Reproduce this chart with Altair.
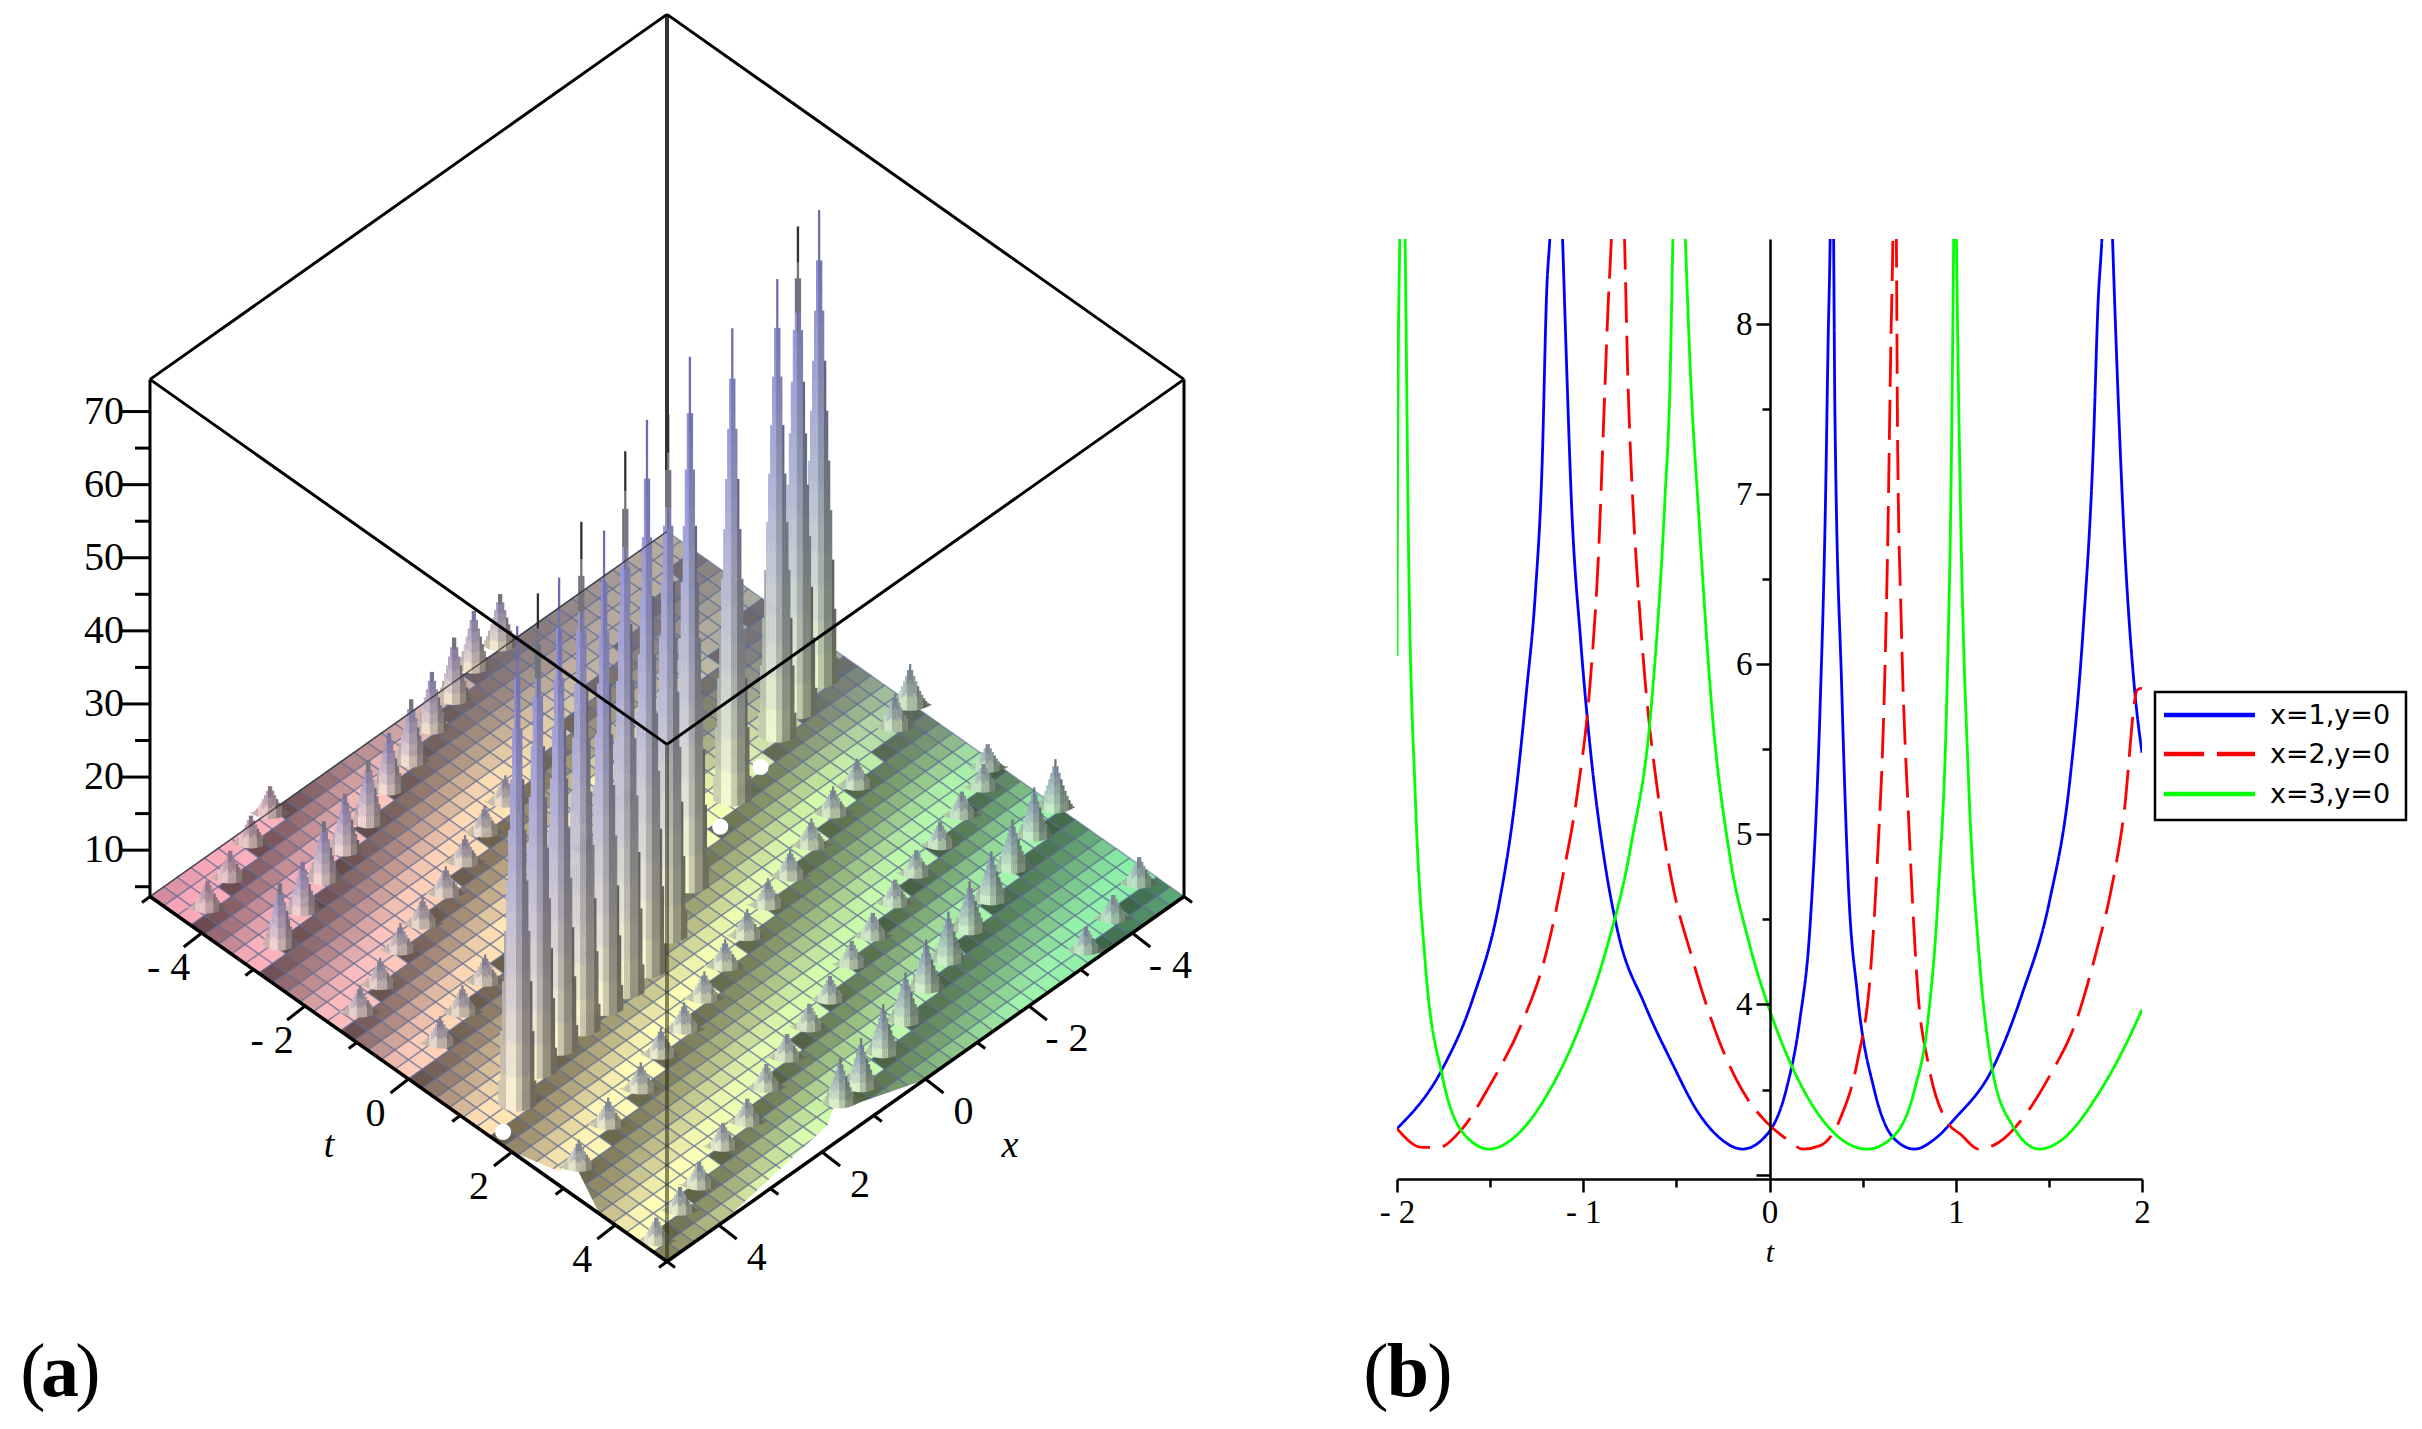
import altair as alt
import pandas as pd

alt.data_transformers.disable_max_rows()

# ---------- panel (b) values ----------
BLUE_T = [-2.0,-1.757,-1.594,-1.449,-1.377,-1.304,-1.257,-1.221,-1.196,-1.178,-1.145,-1.112,-1.094,-1.062,-1.014,-.96,-.888,-.815,-.67,-.525,-.38,-.272,-.145,-.018,.09,.163,.217,.272,.30,.315,.326,.335,.344,.351,.388,.424,.471,.562,.67,.779,.888,.996,1.196,1.359,1.504,1.612,1.685,1.739,1.764,1.786,1.815,1.841,1.866,1.902,1.957,2.0]
BLUE_V = [3.27,3.62,4.03,4.61,5.105,5.85,6.42,7.17,8.2,8.53,9.5,8.53,7.91,6.92,6.14,5.48,4.86,4.43,4.0,3.66,3.36,3.22,3.15,3.23,3.50,3.91,4.45,5.76,6.92,7.91,8.53,9.5,8.53,7.5,5.85,4.69,4.07,3.50,3.21,3.15,3.21,3.33,3.62,4.07,4.61,5.31,6.22,7.29,8.12,8.53,9.5,8.53,7.74,6.80,5.89,5.48]
RED_T = [-2.0,-1.866,-1.775,-1.649,-1.504,-1.322,-1.214,-1.105,-1.033,-.96,-.917,-.888,-.866,-.851,-.82,-.779,-.761,-.736,-.707,-.67,-.598,-.525,-.417,-.272,-.127,-.018,.09,.181,.272,.38,.471,.543,.58,.616,.634,.652,.663,.672,.681,.688,.707,.75,.797,.851,.942,1.033,1.123,1.232,1.359,1.504,1.649,1.757,1.83,1.902,1.975,2.0]
RED_V = [3.27,3.16,3.16,3.27,3.52,3.91,4.24,4.78,5.23,5.93,6.67,7.5,8.12,8.45,9.5,8.53,7.7,7.0,6.47,5.93,5.23,4.73,4.28,3.79,3.46,3.31,3.21,3.15,3.17,3.33,3.66,4.20,4.86,5.81,6.67,7.91,8.53,9.5,8.53,7.29,6.26,5.02,4.07,3.66,3.33,3.23,3.15,3.19,3.33,3.58,3.91,4.32,4.65,5.11,5.85,5.86]
GREEN_T = [-2.0,-1.995,-1.985,-1.975,-1.957,-1.938,-1.902,-1.848,-1.757,-1.649,-1.504,-1.359,-1.178,-1.033,-.888,-.743,-.634,-.562,-.533,-.518,-.485,-.453,-.424,-.38,-.308,-.217,-.109,0,.127,.308,.525,.67,.779,.851,.906,.953,.975,.989,.996,1.004,1.025,1.069,1.123,1.196,1.304,1.449,1.576,1.757,1.902,2.0]
GREEN_V = [6.05,7.5,8.53,9.5,8.53,6.67,5.23,4.24,3.58,3.25,3.15,3.23,3.50,3.83,4.28,4.94,5.76,6.96,7.70,8.53,9.5,8.53,7.70,6.88,5.72,4.90,4.36,3.97,3.62,3.29,3.15,3.23,3.50,3.91,4.65,5.85,7.08,8.53,9.5,8.53,6.96,5.31,4.32,3.62,3.29,3.15,3.21,3.46,3.74,3.97]
SERIES = ["x=1,y=0", "x=2,y=0", "x=3,y=0"]
SERIES_COLORS = ["#0000ff", "#ff0000", "#00ff00"]
Y_TICKS = [3,3.5,4,4.5,5,5.5,6,6.5,7,7.5,8]
X_TICKS = [-2,-1.5,-1,-.5,0,.5,1,1.5,2]

# ---------- panel (a) values: rows of peaks (t, x, height) ----------
BIG_T = [1.49,1.24,1.13,1.08,1.02,.99,.92,.65,.17,-.61,-1.05,-1.17,-1.39]
BIG_X = [4.39,3.74,3.22,2.74,2.24,1.80,1.31,.63,-.27,-1.87,-3.18,-3.70,-4.33]
BIG_Z = [70,70,69,74,70,78.5,80,76,77,69,67,71,69]
BIG_DARK = [0,1,0,1,0,1,0,1,0,0,0,1,0]
P_T = [-3.01,-3.26,-3.48,-3.67,-3.83,-4.08,-4.25,-4.50,-4.69,-4.93,-4.98]
P_X = [4.48,3.79,3.16,2.56,1.95,1.30,.70,.05,-.57,-1.19,-1.75]
P_Z = [13.5,11.6,13,12.8,13.6,12.8,13.6,12.8,13.5,12.8,12]
P_DARK = [1,0,1,0,1,0,1,0,1,0,1]
A_T = [-4.22,-4.41,-4.69,-4.91]
A_X = [4.67,4.04,3.36,2.77]
A_Z = [8.4,8.4,8.4,8.4]
C_T = [-1.32,-1.50,-1.78,-1.92,-2.12,-2.36,-2.58,-2.79]
C_X = [4.62,4.05,3.38,2.81,2.16,1.55,.95,.34]
C_Z = [8,8,8,8,8,8,8,8]
D_T = [-.12,-.33,-.53]
D_X = [4.27,3.63,2.99]
D_Z = [8,8,8]
E_T = [2.91,2.62,2.45,2.17,2.05,1.82,1.58,1.38,1.16,.98,.76,.53,.38,-.05,-.2]
E_X = [4.62,3.76,2.96,2.29,1.72,1.10,.46,-.17,-.79,-1.40,-2.03,-2.68,-3.29,-4.46,-4.9]
E_Z = [8,8,8,8,8,8,8,8,8,8,8,8,8,9,10]
F_T = [4.68,4.49,4.33,4.03,3.93,3.64,3.43,3.23,3.05,2.78,2.60,2.36,2.16,2.0,1.80,1.63,1.4]
F_X = [4.89,4.24,3.71,2.95,2.38,1.72,1.11,.48,-.10,-.79,-1.38,-2.05,-2.66,-3.28,-3.90,-4.49,-4.8]
F_Z = [7.8]*17
G_T = [4.57,4.55,4.30,4.08,3.83,3.66,3.45,3.25,3.02,2.79,2.61]
G_X = [1.22,.80,.12,-.53,-1.18,-1.78,-2.40,-3.02,-3.66,-4.31,-4.90]
G_Z = [10.5,11,11,11,11,11,11,11,11,11,11]
G_DARK = [1,0,1,0,1,0,1,0,1,0,1]
H_T = [4.85,4.68,4.45]
H_X = [-3.25,-3.95,-4.68]
H_Z = [7.8,7.8,8.2]
RIDGES = [-22,-18,-12.8,-9.2,-4.3,-.1,4.6,8.6,13.5,17.3,22]
NOTCH1_T = [5.03,4.68,4.52,4.69,4.85,5.02]
NOTCH1_X = [-.03,1.0,1.31,1.57,2.76,4.03]
NOTCH2_T = [3.72,2.95,2.6,2.74,2.05]
NOTCH2_X = [5.02,4.65,4.43,4.81,4.99]
HOLE_T = [1.64,-.44,-.87]
HOLE_X = [4.81,-1.47,-2.68]
Z_TICKS = [5,10,15,20,25,30,35,40,45,50,55,60,65,70]
Z_LABELS = [10,20,30,40,50,60,70]
FLOOR_TICKS = [-5,-4,-3,-2,-1,0,1,2,3,4,5]
FLOOR_LABELS = [-4,-2,0,2,4]

Z0, ZTOP = 3.66, 74.4
def proj(t, x, z=Z0):
    return 667 + (t - x) * 51.7, 893.5 + (t + x) * 36.5 - (z - Z0) * 7.31

SX = alt.Scale(domain=[8, 1397], range=[0, 1389], nice=False, zero=False)
SY = alt.Scale(domain=[1421, 8], nice=False, zero=False)
XE = alt.X("x:Q", scale=SX, axis=None)
YE = alt.Y("y:Q", scale=SY, axis=None)

def hexc(c):
    return "#%02x%02x%02x" % tuple(max(0, min(255, int(round(v)))) for v in c)
def mix(a, b, f):
    return tuple(a[i] + (b[i] - a[i]) * f for i in range(3))
KEYS = [(-10,(244,160,182)),(-6,(246,186,186)),(-3,(252,226,176)),(0,(253,252,180)),(3,(206,246,168)),(6,(166,240,168)),(10,(124,232,164))]
def base_col(d):
    d = max(-10, min(10, d))
    for (a, ca), (b, cb) in zip(KEYS, KEYS[1:]):
        if d <= b:
            return mix(ca, cb, (d - a) / (b - a))
    return KEYS[-1][1]

def shade(t, x):
    c = x - 3 * t
    for lo, hi in zip(RIDGES, RIDGES[1:]):
        if lo <= c <= hi:
            f = (hi - c) / (hi - lo)
            return 0.40 + 0.62 * min(1, f / 0.72)
    return 1

# surface cells
N = 38
rows = []
for i in range(N):
    for j in range(N):
        t0, t1 = -5 + i * 10 / N, -5 + (i + 1) * 10 / N
        x0, x1 = -5 + j * 10 / N, -5 + (j + 1) * 10 / N
        tm, xm = (t0 + t1) / 2, (x0 + x1) / 2
        col = tuple(v * shade(tm, xm) for v in base_col(tm - xm))
        s = tm + xm
        if s < -3:
            col = mix(col, (120, 104, 140), min(.55, (-3 - s) / 7))
        colh = hexc(col)
        for k, (a, b) in enumerate([(t0,x0),(t1,x0),(t1,x1),(t0,x1),(t0,x0)]):
            p = proj(a, b)
            rows.append({"id": i * N + j, "k": k, "x": round(p[0], 1), "y": round(p[1], 1), "c": colh})
surface = alt.Chart(pd.DataFrame(rows)).mark_line(stroke="#5a6794", strokeWidth=1.6, strokeOpacity=.55).encode(
    x=XE, y=YE, detail="id:N", order="k:Q", fill=alt.Fill("c:N", scale=None))

nrows = []
for nid, (ts, xs) in enumerate([(NOTCH1_T, NOTCH1_X), (NOTCH2_T, NOTCH2_X)]):
    for k, (a, b) in enumerate(list(zip(ts, xs)) + [(ts[0], xs[0])]):
        p = proj(a, b)
        nrows.append({"id": nid, "k": k, "x": p[0], "y": p[1]})
notches = alt.Chart(pd.DataFrame(nrows)).mark_line(stroke="white", strokeWidth=1, fill="white").encode(
    x=XE, y=YE, detail="id:N", order="k:Q")

# peaks as stepped cones: (t, x, z, dark flag, tip colour, half width, colour bands, profile power)
def peak_rows():
    groups = [
        (A_T, A_X, A_Z, None, (150, 120, 150), 20, 3, 1.4),
        (P_T, P_X, P_Z, P_DARK, (135, 125, 185), 18, 6, 1.25),
        (C_T, C_X, C_Z, None, (135, 130, 165), 21, 3, 1.4),
        (D_T, D_X, D_Z, None, (135, 130, 165), 21, 3, 1.4),
        (E_T, E_X, E_Z, None, (130, 140, 170), 21, 3, 1.4),
        (F_T, F_X, F_Z, None, (130, 140, 170), 20, 3, 1.4),
        (G_T, G_X, G_Z, G_DARK, (120, 135, 170), 19, 6, 1.25),
        (H_T, H_X, H_Z, None, (130, 140, 170), 20, 3, 1.4),
        (BIG_T, BIG_X, BIG_Z, BIG_DARK, (125, 125, 210), 19, 14, 1.0),
    ]
    peaks = []
    for ts, xs, zs, dark, top, w, nseg, pw in groups:
        for n, (t, x, z) in enumerate(zip(ts, xs, zs)):
            peaks.append((t + x, t, x, z, dark[n] if dark else 0, top, w, nseg, pw))
    peaks.sort(key=lambda p: p[0])
    out = []
    for _, t, x, z, dk, top, w, nseg, pw in peaks:
        sx, by = proj(t, x)
        _, tip = proj(t, x, z)
        cream = mix(base_col(t - x), (250, 250, 225), .55)
        col = -w
        while col < w:
            g = (col + 1) / w
            fc = max(.02, (1 - abs(g)) ** pw)
            bot = by - 6 * g * g
            n_here = max(1, int(round(fc * nseg)))
            H = by - tip
            if g < -.55: m = .86
            elif g < -.1: m = 1.03
            elif g < .3: m = .84
            elif g < .65: m = .62
            else: m = .46
            for q in range(n_here):
                f0, f1 = fc * q / n_here, fc * (q + 1) / n_here
                fm = (f0 + f1) / 2
                c = mix(cream, top, fm ** .8)
                c = tuple(v * m for v in c)
                if dk and fm > .93: c = (48, 48, 50)
                elif dk and fm > .8: c = (115, 115, 125)
                y_top = bot - (bot - (by - H)) * f1
                y_bot = bot - (bot - (by - H)) * f0
                out.append({"x": sx + col, "x2": sx + col + 2.3, "y": y_top, "y2": y_bot + .5, "c": hexc(c)})
            col += 2
    return out
peaks = alt.Chart(pd.DataFrame(peak_rows())).mark_rect(strokeWidth=0).encode(
    x=XE, x2="x2:Q", y=YE, y2="y2:Q", fill=alt.Fill("c:N", scale=None))

def segs(pairs, width, color="black", opacity=1, dash=None):
    d = pd.DataFrame([{"x": a[0], "y": a[1], "x2": b[0], "y2": b[1]} for a, b in pairs])
    kw = {"strokeDash": dash} if dash else {}
    return alt.Chart(d).mark_rule(strokeWidth=width, color=color, opacity=opacity, **kw).encode(
        x=XE, x2="x2:Q", y=YE, y2="y2:Q")

def txt(items, size, font="Liberation Serif", style="normal", weight="normal", align="center"):
    d = pd.DataFrame([{"x": a, "y": b, "s": c} for a, b, c in items])
    return alt.Chart(d).mark_text(font=font, fontSize=size, fontStyle=style, fontWeight=weight,
                                  align=align, baseline="middle", color="black").encode(x=XE, y=YE, text="s:N")

L, F, R, B = (-5, 5), (5, 5), (5, -5), (-5, -5)
top = lambda c: proj(c[0], c[1], ZTOP)
flo = lambda c: proj(c[0], c[1])

back_line = segs([(top(B), flo(B))], 4, "#333333")
holes = alt.Chart(pd.DataFrame([{"x": proj(a, b)[0], "y": proj(a, b)[1]} for a, b in zip(HOLE_T, HOLE_X)])).mark_point(
    filled=True, shape="circle", size=260, color="white", opacity=1).encode(x=XE, y=YE)
top_box = segs([(top(B), top(L)), (top(L), top(F)), (top(F), top(R)), (top(R), top(B))], 3)
front_v = segs([(top(F), flo(F))], 4, "#2a2a10", .55)
left_v = segs([(top(L), flo(L))], 3)
right_v = segs([(top(R), flo(R))], 3)
floor_e = segs([(flo(L), flo(F)), (flo(F), flo(R))], 3.5)
back_e = segs([(flo(L), flo(B))], 1.5, "#222222", .7)

tick_pairs = []
for v in FLOOR_TICKS:
    a = proj(v, 5); lx, ly = (18, 14) if v in FLOOR_LABELS else (8, 6)
    tick_pairs.append((a, (a[0] - lx, a[1] + ly)))
    a = proj(5, v)
    tick_pairs.append((a, (a[0] + lx, a[1] + ly)))
for z in Z_TICKS:
    y = proj(-5, 5, z)
    tick_pairs.append((y, (y[0] - (30 if z in Z_LABELS else 15), y[1])))
ticks_a = segs(tick_pairs, 3)

def lab(v):
    return ("- %d" % -v) if v < 0 else str(v)
t_labels = [(proj(v, 5)[0] - 33, proj(v, 5)[1] + 35, lab(v)) for v in FLOOR_LABELS]
x_labels = [(proj(5, v)[0] + 38, proj(5, v)[1] + 33, lab(v)) for v in FLOOR_LABELS]
z_labels = [(124, proj(-5, 5, z)[1], str(z)) for z in Z_LABELS]

texts = [
    txt(t_labels + x_labels, 40),
    txt(z_labels, 40, align="right"),
    txt([(329, 1143, "t"), (1010, 1143, "x")], 38, style="italic"),
    txt([(33, 1370, "("), (88, 1370, ")"), (1376, 1370, "("), (1440, 1370, ")")], 76),
    txt([(60, 1370, "a"), (1408, 1370, "b")], 76, weight="bold"),
]

# legend of panel (b)
legend_box = alt.Chart(pd.DataFrame([{"x": 2155, "x2": 2406, "y": 689, "y2": 817}])).mark_rect(
    fill="white", stroke="black", strokeWidth=2.5).encode(x=XE, x2="x2:Q", y=YE, y2="y2:Q")
LEG_Y = [712, 751, 791]
legend_items = [legend_box] + [
    segs([((2164, y), (2255, y))], 4.5, c, 1, [40, 13] if i == 1 else None)
    for i, (y, c) in enumerate(zip(LEG_Y, SERIES_COLORS))
] + [txt([(2270, y + 1, s) for y, s in zip(LEG_Y, SERIES)], 27, font="DejaVu Sans", align="left")]

left = alt.layer(surface, notches, back_line, peaks, holes, back_e, top_box, front_v, left_v, right_v,
                 floor_e, ticks_a, *texts, *legend_items).properties(width=1389, height=1413)

# ---------- panel (b) ----------
lrows = []
for name, ts, vs in zip(SERIES, [BLUE_T, RED_T, GREEN_T], [BLUE_V, RED_V, GREEN_V]):
    for k, (a, b) in enumerate(zip(ts, vs)):
        lrows.append({"t": a, "v": b, "s": name, "k": k})

FONT = "Liberation Serif"
lines = alt.Chart(pd.DataFrame(lrows)).mark_line(strokeWidth=2.8, clip=True, interpolate="monotone").encode(
    x=alt.X("t:Q", scale=alt.Scale(domain=[-2, 2], nice=False, zero=False), axis=alt.Axis(
        values=X_TICKS, title="t", titleFont=FONT, titleFontStyle="italic", titleFontWeight="normal", titleFontSize=30,
        titlePadding=8, grid=False, domainColor="black", domainWidth=2.5, tickColor="black", tickWidth=2.5,
        tickSize={"condition": {"test": "datum.value % 1 == 0", "value": 13}, "value": 8},
        labelExpr="datum.value % 1 == 0 ? (datum.value < 0 ? '- ' + (-datum.value) : '' + datum.value) : ''",
        labelFont=FONT, labelFontSize=33, labelColor="black", labelPadding=4, labelFlush=False, labelOverlap=False, zindex=1)),
    y=alt.Y("v:Q", scale=alt.Scale(domain=[2.974, 8.5], nice=False, zero=False), axis=alt.Axis(
        values=Y_TICKS, title=None, offset=-373, grid=False, domainColor="black", domainWidth=2.5, tickColor="black", tickWidth=2.5,
        tickSize={"condition": {"test": "datum.value % 1 == 0", "value": 14}, "value": 8},
        labelExpr="datum.value % 1 == 0 && datum.value > 3 ? '' + datum.value : ''",
        labelFont=FONT, labelFontSize=33, labelColor="black", labelPadding=4, labelOverlap=False, zindex=1)),
    color=alt.Color("s:N", scale=alt.Scale(domain=SERIES, range=SERIES_COLORS), legend=None),
    strokeDash=alt.StrokeDash("s:N", scale=alt.Scale(domain=SERIES, range=[[1, 0], [40, 13], [1, 0]]), legend=None),
    detail="s:N", order="k:Q",
).properties(width=745, height=940)

spacer = alt.Chart(pd.DataFrame({"a": [0]})).mark_point(opacity=0).encode(
    x=alt.value(0), y=alt.value(0)).properties(width=745, height=228)
right = alt.vconcat(spacer, lines, spacing=0, bounds="flush")

chart = alt.hconcat(left, right, spacing=0, bounds="flush").properties(padding=0).configure_view(stroke=None)
chart.save("out.html", embed_options={"renderer": "svg", "actions": False})
